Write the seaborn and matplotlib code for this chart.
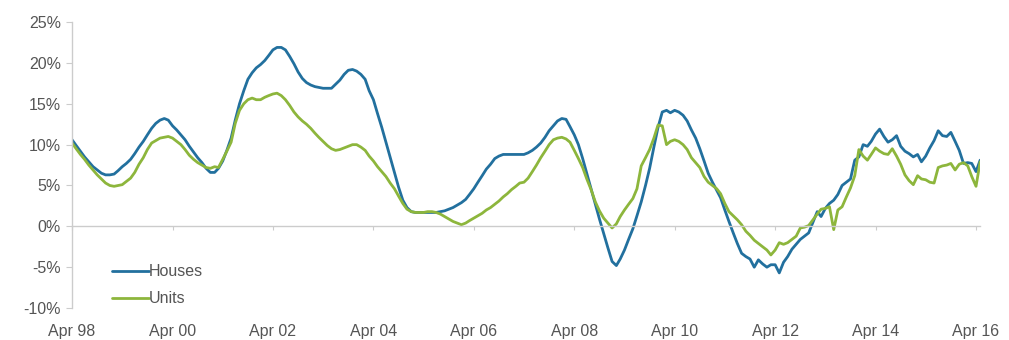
import matplotlib
matplotlib.use("Agg")
import matplotlib.pyplot as plt
import matplotlib.dates as mdates
import matplotlib.ticker as mticker
import pandas as pd
import seaborn as sns

# Monthly annual growth (%), Apr 1998 onwards
houses = [
    10.6, 9.9, 9.2, 8.5, 7.9, 7.3, 6.9, 6.5, 6.3, 6.3, 6.4, 6.8,
    7.3, 7.7, 8.2, 8.9, 9.7, 10.4, 11.2, 12.0, 12.6, 13.0, 13.2, 13.0,
    12.3, 11.8, 11.2, 10.6, 9.8, 9.1, 8.4, 7.8, 7.1, 6.6, 6.6, 7.1,
    8.0, 9.3, 10.8, 13.0, 15.0, 16.6, 18.0, 18.8, 19.4, 19.8, 20.3, 20.9,
    21.6, 21.9, 21.9, 21.6, 20.8, 19.9, 18.9, 18.1, 17.6, 17.3, 17.1, 17.0,
    16.9, 16.9, 16.9, 17.4, 17.9, 18.6, 19.1, 19.2, 19.0, 18.6, 18.0, 16.6,
    15.5, 13.8, 12.1, 10.3, 8.4, 6.6, 4.8, 3.2, 2.3, 1.8, 1.7, 1.7,
    1.7, 1.7, 1.7, 1.7, 1.8, 1.9, 2.1, 2.3, 2.6, 2.9, 3.3, 3.9,
    4.6, 5.4, 6.2, 7.0, 7.6, 8.3, 8.6, 8.8, 8.8, 8.8, 8.8, 8.8,
    8.8, 9.0, 9.3, 9.7, 10.2, 10.9, 11.7, 12.3, 12.9, 13.2, 13.1, 12.2,
    11.2, 10.0, 8.3, 6.5, 4.6, 2.7, 0.9, -0.9, -2.6, -4.3, -4.8, -4.0,
    -2.9, -1.6, -0.3, 1.3, 3.0, 5.0, 7.1, 9.7, 12.1, 14.0, 14.2, 13.9,
    14.2, 14.0, 13.6, 12.9, 11.8, 10.8, 9.5, 8.0, 6.5, 5.4, 4.4, 3.5,
    2.0, 0.6, -0.8, -2.1, -3.3, -3.7, -4.0, -5.0, -4.1, -4.6, -5.0, -4.7,
    -4.7, -5.7, -4.4, -3.7, -2.8, -2.2, -1.6, -1.2, -0.8, 0.5, 1.8, 1.2,
    2.2, 2.8, 3.2, 3.9, 5.0, 5.4, 5.8, 8.1, 8.5, 10.0, 9.8, 10.4,
    11.3, 11.9, 11.0, 10.3, 10.6, 11.1, 9.8, 9.2, 8.9, 8.5, 8.8, 7.9,
    8.6, 9.6, 10.5, 11.7, 11.1, 11.0, 11.5, 10.4, 9.3, 7.7, 7.8, 7.7,
    6.7, 8.1,
]
units = [
    10.2, 9.5, 8.8, 8.2, 7.5, 6.9, 6.3, 5.8, 5.3, 5.0, 4.9, 5.0,
    5.1, 5.5, 5.9, 6.6, 7.6, 8.4, 9.4, 10.2, 10.5, 10.8, 10.9, 11.0,
    10.8, 10.4, 10.0, 9.4, 8.7, 8.2, 7.8, 7.5, 7.2, 7.1, 7.3, 7.2,
    8.2, 9.2, 10.3, 12.6, 14.2, 15.0, 15.5, 15.7, 15.5, 15.5, 15.8, 16.0,
    16.2, 16.3, 16.0, 15.5, 14.8, 14.0, 13.4, 12.9, 12.5, 12.0, 11.4, 10.9,
    10.4, 9.9, 9.5, 9.3, 9.4, 9.6, 9.8, 10.0, 10.0, 9.7, 9.3, 8.6,
    8.0, 7.3, 6.7, 6.1, 5.3, 4.6, 3.7, 2.8, 2.1, 1.8, 1.7, 1.7,
    1.7, 1.8, 1.8, 1.7, 1.5, 1.2, 0.9, 0.6, 0.4, 0.2, 0.4, 0.7,
    1.0, 1.3, 1.6, 2.0, 2.3, 2.7, 3.1, 3.6, 4.0, 4.5, 4.9, 5.3,
    5.4, 5.9, 6.7, 7.5, 8.4, 9.2, 10.0, 10.6, 10.8, 10.9, 10.7, 10.3,
    9.3, 8.3, 7.2, 5.8, 4.5, 3.0, 1.9, 1.0, 0.4, -0.2, 0.3, 1.2,
    2.0, 2.7, 3.4, 4.6, 7.4, 8.4, 9.4, 10.8, 12.4, 12.3, 10.0, 10.4,
    10.6, 10.4, 10.0, 9.4, 8.4, 7.8, 7.2, 6.1, 5.4, 5.0, 4.6, 4.0,
    2.8, 1.8, 1.3, 0.8, 0.2, -0.6, -1.1, -1.7, -2.1, -2.5, -2.9, -3.5,
    -2.9, -2.0, -2.2, -2.0, -1.6, -1.2, -0.2, -0.1, 0.1, 0.8, 1.5, 2.1,
    2.2, 2.4, -0.4, 2.0, 2.4, 3.6, 4.7, 6.2, 9.4, 8.6, 8.1, 8.8,
    9.6, 9.2, 8.9, 8.8, 9.5, 8.6, 7.6, 6.3, 5.6, 5.1, 6.2, 5.8,
    5.7, 5.4, 5.3, 7.2, 7.4, 7.5, 7.7, 6.9, 7.6, 7.8, 7.4, 6.1,
    4.9, 7.9,
]
dates = pd.date_range("1998-04-01", periods=len(houses), freq="MS")
y_ticks = [-10, -5, 0, 5, 10, 15, 20, 25]

df = pd.DataFrame({"date": dates, "Houses": houses, "Units": units})
df_long = df.melt(id_vars="date", var_name="type", value_name="growth")

sns.set_style("white")
plt.rcParams["font.family"] = ["Liberation Sans", "DejaVu Sans"]

fig = plt.figure(figsize=(10.09, 3.4), dpi=100)
ax = fig.add_axes([0.0714, 0.094, 0.9, 0.841])

sns.lineplot(data=df_long, x="date", y="growth", hue="type",
             palette={"Houses": "#22709e", "Units": "#8db63c"},
             linewidth=2.0, ax=ax)

ax.set_ylim(-10, 25)
ax.set_xlim(dates[0], dates[-1])
ax.set_yticks(y_ticks)
ax.yaxis.set_major_formatter(mticker.FuncFormatter(lambda v, p: f"{v:.0f}%"))
ax.xaxis.set_major_locator(mdates.YearLocator(base=2, month=4, day=1))
ax.xaxis.set_major_formatter(mdates.DateFormatter("%b %y"))

ax.spines["top"].set_visible(False)
ax.spines["right"].set_visible(False)
ax.spines["bottom"].set_position(("data", 0))
for s in ["left", "bottom"]:
    ax.spines[s].set_color("#cccccc")
    ax.spines[s].set_linewidth(1.0)

ax.tick_params(axis="y", direction="out", length=4, color="#cccccc",
               labelsize=11.5, labelcolor="#555555", pad=4, left=True)
ax.tick_params(axis="x", direction="out", length=3, color="#cccccc",
               labelsize=11.5, labelcolor="#555555", pad=67, bottom=True)
ax.set_xlabel("")
ax.set_ylabel("")

leg = ax.legend(loc="lower left", bbox_to_anchor=(0.037, -0.016), frameon=False,
                fontsize=11.5, handlelength=2.3, handletextpad=0.0,
                labelspacing=0.75, borderaxespad=0)
for t in leg.get_texts():
    t.set_color("#555555")

fig.savefig("out.png", dpi=100)
